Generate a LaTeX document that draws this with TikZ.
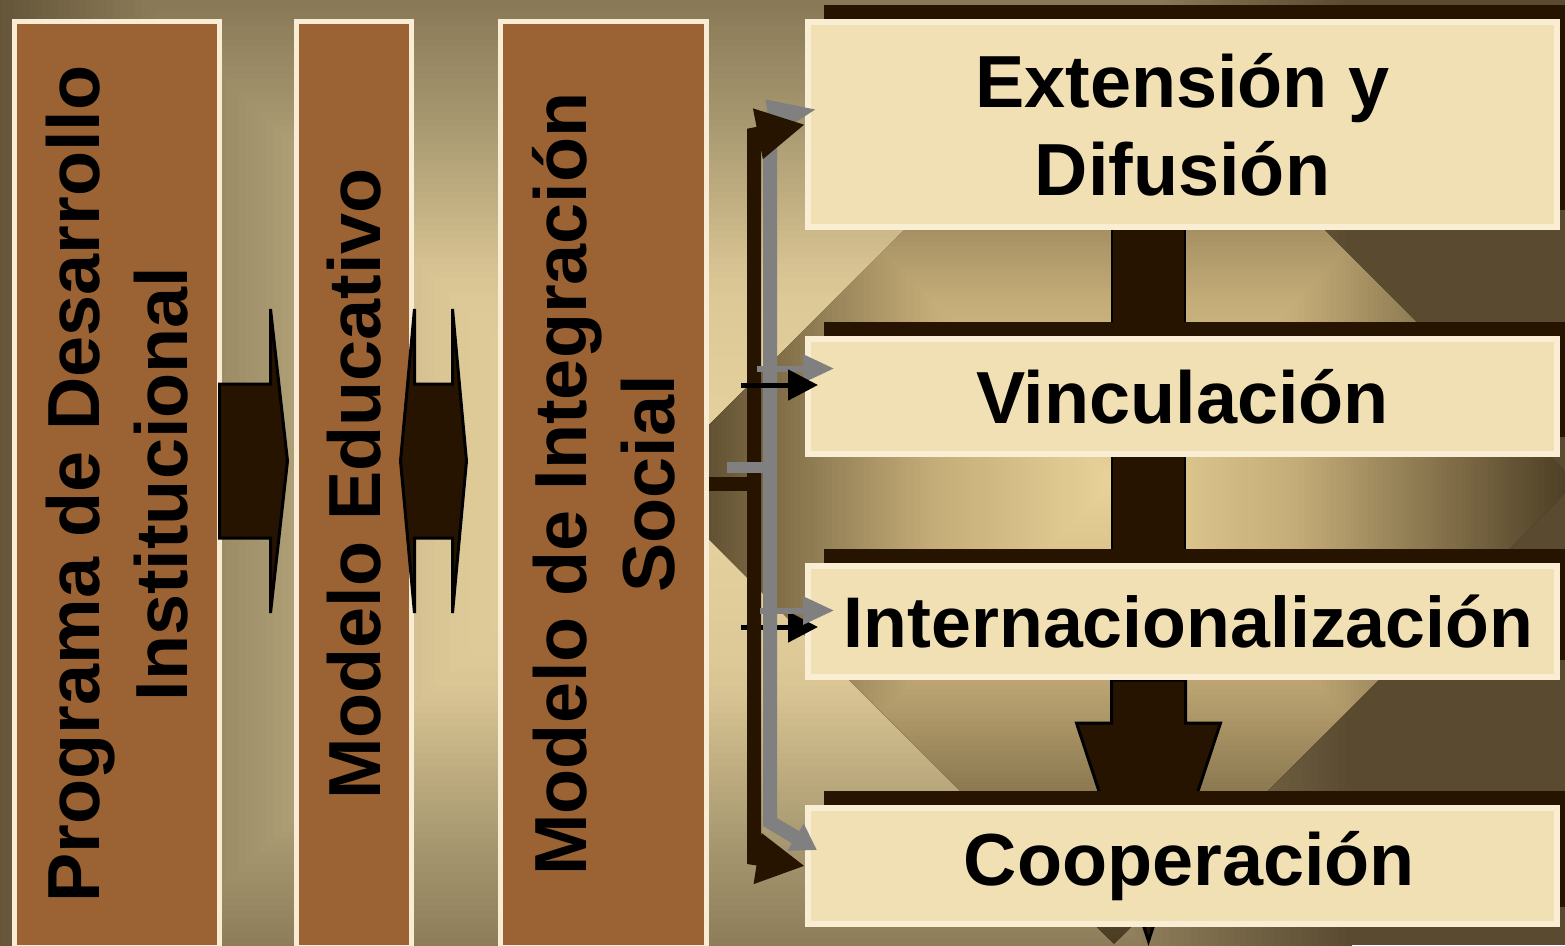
\documentclass[tikz,border=0pt]{standalone}
\usepackage{fontspec}
\setmainfont{Liberation Sans}
\usetikzlibrary{arrows.meta,calc,shadows}

\definecolor{colbrown}{HTML}{9B6334}
\definecolor{colrim}{HTML}{F8ECD4}
\definecolor{panelfill}{HTML}{F2E0B5}
\definecolor{panelrim}{HTML}{F9EDD4}
\definecolor{umber}{HTML}{261400}
\definecolor{bgdark}{HTML}{5A4A30}
\definecolor{bgmid}{HTML}{A89870}
\definecolor{bglight}{HTML}{DCC896}
\definecolor{bgcore}{HTML}{E8D4A0}
\definecolor{ddark}{HTML}{4A3C22}
\definecolor{dmid}{HTML}{C4AC78}
\definecolor{dcore}{HTML}{EAD29A}

\pgfdeclarelayer{bg}
\pgfdeclarelayer{back}
\pgfsetlayers{bg,back,main}

\tikzstyle{column}=[draw=colrim, fill=colbrown, line width=.5mm, rotate=90, inner sep=0pt, align=center, minimum width=92.6mm, font={\fontsize{21}{25}\selectfont\bfseries}]
\tikzstyle{panel}=[draw=panelrim, fill=panelfill, line width=.6mm, inner sep=0pt, align=center, minimum width=74.9mm, font={\fontsize{21}{25}\selectfont\bfseries}, drop shadow={shadow xshift=1.6mm, shadow yshift=1.7mm, fill=umber, opacity=1}]
\tikzstyle{stem}=[draw=black, line width=.2mm, double=umber, double distance=7.1mm]
\tikzstyle{blockarrow}=[draw=black, fill=umber, line width=.3mm, line join=miter]
\tikzstyle{darkbrace}=[umber, line width=1.4mm]
\tikzstyle{graybrace}=[gray, line width=1.4mm]
\tikzstyle{pointer}=[black, line width=.5mm, -{Triangle[length=3mm,width=3mm]}]
\tikzstyle{graypointer}=[gray, line width=.6mm, -{Triangle[length=3.1mm,width=2.7mm]}]

\begin{document}
\begin{tikzpicture}[>=latex, x=.1mm, y=-.1mm]
    \useasboundingbox (0,0) rectangle (1565,945);

    % Background
    \begin{pgfonlayer}{bg}
    \fill[bgdark] (0,0) rectangle (1565,945);
    \foreach \s in {1.00,0.99,...,0.56} {
        \pgfmathsetmacro\p{(1-\s)/0.45*100}
        \fill[bgmid!\p!bgdark] ({652-700*\s},{482-660*\s}) rectangle ({652+700*\s},{482+660*\s});
    }
    \foreach \s in {0.55,0.54,...,0.30} {
        \pgfmathsetmacro\p{(0.55-\s)/0.25*100}
        \fill[bglight!\p!bgmid] ({652-700*\s},{482-660*\s}) rectangle ({652+700*\s},{482+660*\s});
    }
    \foreach \s in {0.29,0.28,...,0.01} {
        \pgfmathsetmacro\p{(0.3-\s)/0.3*100}
        \fill[bgcore!\p!bglight] ({652-700*\s},{482-660*\s}) rectangle ({652+700*\s},{482+660*\s});
    }
    \begin{scope}
        \clip (652,482) -- (1114,20) -- (1576,482) -- (1114,944) -- cycle;
        \foreach \s in {1.00,0.99,...,0.41} {
            \pgfmathsetmacro\p{(1-\s)/0.6*100}
            \fill[dmid!\p!ddark] ({1114-462*\s},{482-462*\s}) rectangle ({1114+462*\s},{482+462*\s});
        }
        \foreach \s in {0.40,0.39,...,0.01} {
            \pgfmathsetmacro\p{(0.4-\s)/0.4*100}
            \fill[dcore!\p!dmid] ({1114-462*\s},{482-462*\s}) rectangle ({1114+462*\s},{482+462*\s});
        }
    \end{scope}
    \end{pgfonlayer}

    % Columns
    \draw (117,484) node[column, minimum height=20.5mm] (pdi) {Programa de Desarrollo\\Institucional};
    \draw (354,484) node[column, minimum height=11.5mm] (med) {Modelo Educativo};
    \draw (603.5,484) node[column, minimum height=20.6mm] (mis) {Modelo de Integración\\Social};

    % Panels
    \draw (1182.5,124.5) node[panel, minimum height=20.5mm] (ext) {Extensión y\\Difusión};
    \draw (1182.5,396.5) node[panel, minimum height=11.5mm] (vin) {Vinculación};
    \draw (1182.5,621.5) node[panel, minimum height=11.1mm, font={\fontsize{20.4}{24}\selectfont\bfseries}] (int) {\hspace{1.2mm}Internacionalización};
    \draw (1182.5,866) node[panel, minimum height=11.6mm] (coop) {\hspace{1.4mm}Cooperación};

    % Stems between panels
    \begin{pgfonlayer}{back}
    \draw[stem] ([xshift=-3.4mm]ext.south) -- ([xshift=-3.4mm]vin.north);
    \draw[stem] ([xshift=-3.4mm]vin.south) -- ([xshift=-3.4mm]int.north);
    \draw[blockarrow] ([xshift=-3.4mm]int.south) ++(-37,0) -- ++(0,43) -- ++(-35,0) -- ++(72,218) -- ++(72,-218) -- ++(-35,0) -- ++(0,-43) -- cycle;
    \end{pgfonlayer}

    % Block arrows between columns
    \coordinate (axis) at (0,461);
    \draw[blockarrow] (pdi.south |- axis) ++(-2.5,-77) -- ++(51,0) -- ++(0,-75) -- ++(17,152) -- ++(-17,152) -- ++(0,-75) -- ++(-51,0) -- cycle;
    \draw[blockarrow] (med.south |- axis) ++(-13.5,0) -- ++(14,-152) -- ++(0,75) -- ++(38,0) -- ++(0,-75) -- ++(14,152) -- ++(-14,152) -- ++(0,-75) -- ++(-38,0) -- ++(0,75) -- cycle;

    % Brace
    \draw[pointer] ($(int.west)+(-64,5.5)$) -- ($(int.west)+(13,5.5)$);
    \draw[graybrace, {Triangle[length=5mm,width=3.4mm]}-{Triangle[length=2.5mm,width=3mm]}] ($(ext.west)+(13,-15.5)$) -- ($(ext.west)+(-35,-6.5)$) -- ($(coop.west)+(-35,-44)$) -- ($(coop.west)+(12,-16)$);
    \draw[darkbrace, {Triangle[length=4.8mm,width=4.8mm]}-{Triangle[length=4.8mm,width=4.8mm]}] (ext.west) -- ++(-51,10) -- ($(coop.west)+(-51,-8)$) -- (coop.west);
    \draw[darkbrace] (mis.south) -- ++(51,0);
    \draw[gray, line width=1.1mm] ($(mis.south)+(17.5,-16.5)$) -- ++(49,0);
    \draw[graypointer] ($(vin.west)+(-48,-28)$) -- ($(vin.west)+(29,-28)$);
    \draw[graypointer] ($(int.west)+(-45,-11)$) -- ($(int.west)+(29,-11)$);
    \draw[pointer] ($(vin.west)+(-64,-11.5)$) -- ($(vin.west)+(13,-11.5)$);

\end{tikzpicture}
\end{document}
